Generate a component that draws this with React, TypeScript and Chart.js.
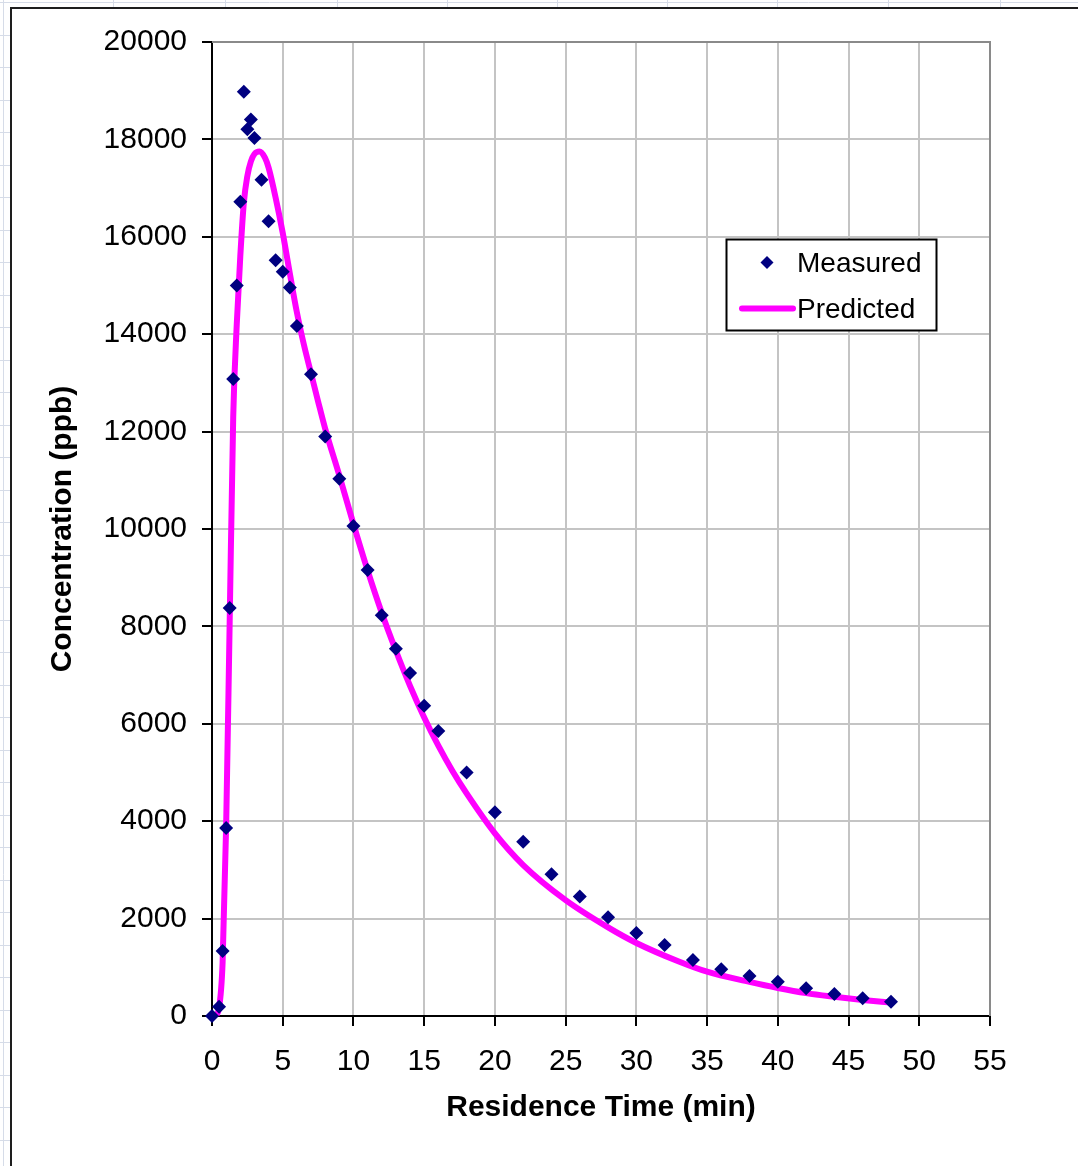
import React, { useEffect, useRef } from "react";
import { Chart, registerables } from "chart.js";

Chart.register(...registerables);

// ---------------- data ----------------
const measuredTime = [
  0, 0.5, 0.75, 1, 1.25, 1.5, 1.75, 2, 2.25, 2.5, 2.75, 3, 3.5, 4, 4.5, 5, 5.5, 6,
  7, 8, 9, 10, 11, 12, 13, 14, 15, 16, 18, 20, 22, 24, 26, 28, 30, 32, 34, 36, 38,
  40, 42, 44, 46, 48,
];
const measuredConc = [
  0, 190, 1335, 3860, 8378, 13080, 15000, 16720, 18980, 18210, 18410, 18030, 17170,
  16320, 15520, 15280, 14960, 14170, 13180, 11900, 11030, 10060, 9160, 8230, 7540,
  7045, 6370, 5850, 5000, 4185, 3578, 2912, 2455, 2030, 1705, 1460, 1150, 960, 821,
  704, 569, 452, 363, 294,
];

const predictedTime = [
  0, 0.25, 0.5, 0.75, 1, 1.25, 1.5, 1.75, 2, 2.25, 2.5, 2.75, 3, 3.35, 3.75, 4, 4.5,
  5, 5.5, 6, 6.5, 7, 7.5, 8, 9, 10, 11, 12, 13, 14, 15, 16, 17, 18, 20, 22, 25, 28,
  30, 33, 35, 38, 40, 42, 44, 46, 48,
];
const predictedConc = [
  0, 15, 170, 1100, 3900, 8100, 12300, 14200, 15600, 16700, 17250, 17550, 17700,
  17750, 17620, 17420, 16800, 16080, 15250, 14450, 13780, 13200, 12620, 12060, 11100,
  10100, 9150, 8280, 7500, 6780, 6130, 5550, 5030, 4570, 3750, 3100, 2380, 1820, 1500,
  1120, 910, 700, 575, 470, 395, 330, 275,
];

const seriesLabels = ["Measured", "Predicted"];
const xAxisRange = [0, 55];
const xTickStep = 5;
const yAxisRange = [0, 20000];
const yTickStep = 2000;
const xTitle = "Residence Time (min)";
const yTitle = "Concentration (ppb)";

// ---------------- styles ----------------
const FONT = "'Liberation Sans', Arial, Helvetica, sans-serif";
const MEASURED_COLOR = "#000080";
const PREDICTED_COLOR = "#ff00ff";
const GRID_COLOR = "#c4c4c4";

const W = 1078;
const H = 1166;

const sheetBackground = {
  id: "sheetBackground",
  beforeDraw(chart: any) {
    const ctx = chart.ctx;
    ctx.save();
    ctx.fillStyle = "#ffffff";
    ctx.fillRect(0, 0, W, H);
    // spreadsheet cell lines peeking out around the chart object
    ctx.strokeStyle = "#d6dce8";
    ctx.lineWidth = 1;
    const cols = [3, 113, 225, 337, 447, 557, 667, 777, 888, 1000];
    cols.forEach((x) => {
      ctx.beginPath();
      ctx.moveTo(x + 0.5, 0);
      ctx.lineTo(x + 0.5, x === 3 ? H : 8);
      ctx.stroke();
    });
    ctx.beginPath();
    ctx.moveTo(0, 2.5);
    ctx.lineTo(W, 2.5);
    ctx.stroke();
    for (let y = 2; y < H; y += 32.5) {
      ctx.beginPath();
      ctx.moveTo(0, Math.round(y) + 0.5);
      ctx.lineTo(10, Math.round(y) + 0.5);
      ctx.stroke();
    }
    // chart object white area + border
    ctx.fillStyle = "#ffffff";
    ctx.fillRect(11, 8, W - 11, H - 8);
    ctx.strokeStyle = "#1e1e1e";
    ctx.lineWidth = 2;
    ctx.beginPath();
    ctx.moveTo(11, H);
    ctx.lineTo(11, 8);
    ctx.lineTo(W, 8);
    ctx.stroke();
    ctx.restore();
  },
};

const plotFrame = {
  id: "plotFrame",
  beforeDatasetsDraw(chart: any) {
    const { ctx, chartArea } = chart;
    ctx.save();
    ctx.strokeStyle = "#8a8a8a";
    ctx.lineWidth = 2;
    ctx.beginPath();
    ctx.moveTo(chartArea.left, chartArea.top);
    ctx.lineTo(chartArea.right, chartArea.top);
    ctx.lineTo(chartArea.right, chartArea.bottom);
    ctx.stroke();
    ctx.restore();
  },
};

const insideLegend = {
  id: "insideLegend",
  afterDraw(chart: any) {
    const ctx = chart.ctx;
    const ds = chart.data.datasets;
    const box = { x: 726.5, y: 239.5, w: 210, h: 91 };
    ctx.save();
    ctx.fillStyle = "#ffffff";
    ctx.fillRect(box.x, box.y, box.w, box.h);
    ctx.strokeStyle = "#000000";
    ctx.lineWidth = 2;
    ctx.strokeRect(box.x, box.y, box.w, box.h);

    // Measured: diamond
    const mx = 767;
    const my = 262.5;
    const r = 6.5;
    ctx.fillStyle = ds[0].backgroundColor;
    ctx.beginPath();
    ctx.moveTo(mx - r, my);
    ctx.lineTo(mx, my - r);
    ctx.lineTo(mx + r, my);
    ctx.lineTo(mx, my + r);
    ctx.closePath();
    ctx.fill();

    // Predicted: line
    ctx.strokeStyle = ds[1].borderColor;
    ctx.lineWidth = 6;
    ctx.lineCap = "round";
    ctx.beginPath();
    ctx.moveTo(742, 308.5);
    ctx.lineTo(793, 308.5);
    ctx.stroke();

    ctx.fillStyle = "#000000";
    ctx.font = `28px ${FONT}`;
    ctx.textBaseline = "middle";
    ctx.textAlign = "left";
    ctx.fillText(ds[0].label, 797, 264);
    ctx.fillText(ds[1].label, 797, 310);
    ctx.restore();
  },
};

export default function App() {
  const canvasRef = useRef<HTMLCanvasElement | null>(null);

  useEffect(() => {
    const canvas = canvasRef.current;
    if (!canvas) return;

    const measured = measuredTime.map((t, i) => ({ x: t, y: measuredConc[i] }));
    const predicted = predictedTime.map((t, i) => ({ x: t, y: predictedConc[i] }));

    const chart = new Chart(canvas, {
      type: "scatter",
      data: {
        datasets: [
          {
            label: seriesLabels[0],
            data: measured,
            showLine: false,
            pointStyle: "rectRot",
            pointRadius: 7,
            pointHoverRadius: 7,
            backgroundColor: MEASURED_COLOR,
            borderColor: MEASURED_COLOR,
            borderWidth: 0,
            clip: false,
          },
          {
            label: seriesLabels[1],
            data: predicted,
            showLine: true,
            pointRadius: 0,
            pointHoverRadius: 0,
            borderColor: PREDICTED_COLOR,
            backgroundColor: PREDICTED_COLOR,
            borderWidth: 6,
            cubicInterpolationMode: "monotone",
            fill: false,
          },
        ],
      },
      options: {
        responsive: false,
        animation: false,
        events: [],
        layout: { padding: { left: 12, top: 42, right: 88, bottom: 0 } },
        plugins: {
          legend: { display: false },
          tooltip: { enabled: false },
          title: { display: false },
        },
        scales: {
          x: {
            type: "linear",
            min: xAxisRange[0],
            max: xAxisRange[1],
            afterFit(scale: any) {
              scale.height = 150;
            },
            ticks: {
              stepSize: xTickStep,
              color: "#000000",
              font: { family: FONT, size: 30 },
              padding: 18,
              maxRotation: 0,
              autoSkip: false,
            },
            grid: {
              color: GRID_COLOR,
              lineWidth: 2,
              tickColor: "#000000",
              tickLength: 10,
              tickWidth: 2,
            },
            border: { color: "#000000", width: 2 },
            title: {
              display: true,
              text: xTitle,
              color: "#000000",
              font: { family: FONT, size: 30, weight: "bold" },
              padding: { top: 0, bottom: 40 },
            },
          },
          y: {
            type: "linear",
            min: yAxisRange[0],
            max: yAxisRange[1],
            afterFit(scale: any) {
              scale.width = 200;
            },
            ticks: {
              stepSize: yTickStep,
              color: "#000000",
              font: { family: FONT, size: 30 },
              padding: 15,
              callback: (v: any) => String(v),
            },
            grid: {
              color: GRID_COLOR,
              lineWidth: 2,
              tickColor: "#000000",
              tickLength: 10,
              tickWidth: 2,
            },
            border: { color: "#000000", width: 2 },
            title: {
              display: true,
              text: yTitle,
              color: "#000000",
              font: { family: FONT, size: 30, weight: "bold" },
              padding: { top: 33, bottom: 0 },
            },
          },
        },
      },
      plugins: [sheetBackground, plotFrame, insideLegend],
    });

    return () => chart.destroy();
  }, []);

  return (
    <div style={{ position: "absolute", left: 0, top: 0, width: W, height: H, overflow: "hidden" }}>
      <canvas ref={canvasRef} width={W} height={H} style={{ display: "block", width: W, height: H }} />
    </div>
  );
}
